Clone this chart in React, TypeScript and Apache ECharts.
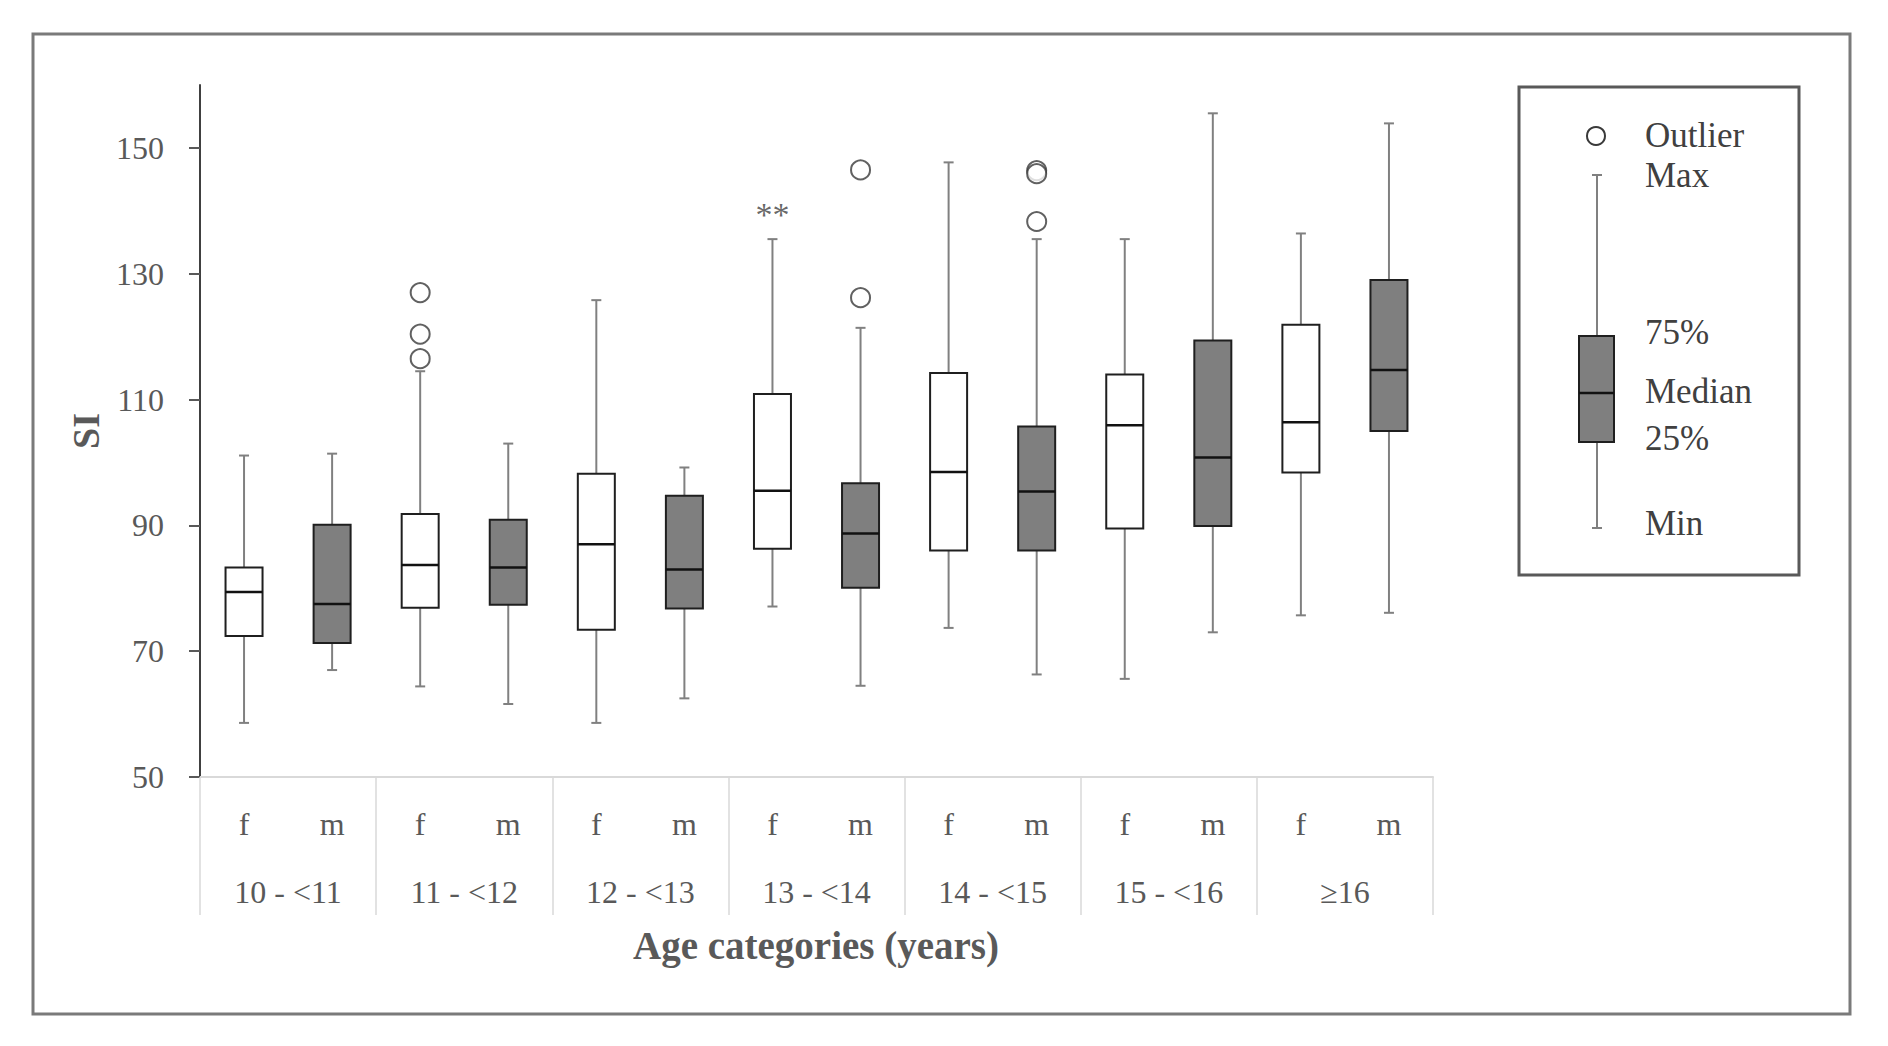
import React, { useEffect, useRef } from 'react';
import * as echarts from 'echarts';

const ageGroups = ['10 - <11', '11 - <12', '12 - <13', '13 - <14', '14 - <15', '15 - <16', '≥16'];
const sexes = ['f', 'm'];
// [min, Q1, median, Q3, max]
const femaleStats = [
  [58.6, 72.4, 79.4, 83.3, 101.1],
  [64.4, 76.9, 83.7, 91.8, 114.5],
  [58.6, 73.4, 87.0, 98.2, 125.8],
  [77.1, 86.3, 95.5, 110.9, 135.5],
  [73.7, 86.0, 98.5, 114.2, 147.7],
  [65.6, 89.5, 105.9, 114.0, 135.5],
  [75.7, 98.4, 106.4, 121.9, 136.4],
];
const maleStats = [
  [67.0, 71.3, 77.5, 90.1, 101.4],
  [61.6, 77.4, 83.3, 90.9, 103.0],
  [62.5, 76.8, 83.0, 94.7, 99.2],
  [64.5, 80.1, 88.7, 96.7, 121.4],
  [66.3, 86.0, 95.4, 105.7, 135.5],
  [73.0, 89.9, 100.8, 119.4, 155.5],
  [76.1, 105.0, 114.7, 129.0, 153.9],
];
// [age group index, value]
const femaleOutliers = [[1, 127.0], [1, 120.4], [1, 116.5]];
const maleOutliers = [[3, 146.5], [3, 126.2], [4, 146.4], [4, 145.9], [4, 138.3]];
const femaleExtremes = [[3, 140.3]];
const yTicks = [50, 70, 90, 110, 130, 150];
const yMin = 50;
const yMax = 160;

const legendItems = [
  { text: 'Outlier', y: 135 },
  { text: 'Max', y: 175 },
  { text: '75%', y: 332 },
  { text: 'Median', y: 391 },
  { text: '25%', y: 438 },
  { text: 'Min', y: 523 },
];

const FONT = '"Liberation Serif", "Times New Roman", serif';
const GREY_TEXT = '#595959';

const sexCategories = ageGroups.flatMap((g) => sexes.map((s) => `${s}|${g}`));

function makeRender(fill: string) {
  return (params: any, api: any) => {
    const idx = api.value(0);
    const pMin = api.coord([idx, api.value(1)]);
    const x = pMin[0];
    const yLo = pMin[1];
    const yQ1 = api.coord([idx, api.value(2)])[1];
    const yMed = api.coord([idx, api.value(3)])[1];
    const yQ3 = api.coord([idx, api.value(4)])[1];
    const yHi = api.coord([idx, api.value(5)])[1];
    const w = 37;
    const cap = 5;
    const whisker = { stroke: '#808080', lineWidth: 2 };
    return {
      type: 'group',
      children: [
        { type: 'line', shape: { x1: x, y1: yHi, x2: x, y2: yQ3 }, style: whisker },
        { type: 'line', shape: { x1: x, y1: yQ1, x2: x, y2: yLo }, style: whisker },
        { type: 'line', shape: { x1: x - cap, y1: yHi, x2: x + cap, y2: yHi }, style: whisker },
        { type: 'line', shape: { x1: x - cap, y1: yLo, x2: x + cap, y2: yLo }, style: whisker },
        {
          type: 'rect',
          shape: { x: x - w / 2, y: yQ3, width: w, height: yQ1 - yQ3 },
          style: { fill, stroke: '#1f1f1f', lineWidth: 2 },
        },
        {
          type: 'line',
          shape: { x1: x - w / 2, y1: yMed, x2: x + w / 2, y2: yMed },
          style: { stroke: '#111111', lineWidth: 2.5 },
        },
      ],
    };
  };
}

export default function App() {
  const ref = useRef<HTMLDivElement>(null);
  useEffect(() => {
    if (!ref.current) return;
    const chart = echarts.init(ref.current, undefined, { renderer: 'svg' });
    const lgX = 1597;
    const option: any = {
      animation: false,
      backgroundColor: '#ffffff',
      grid: { left: 200, top: 85, right: 455, bottom: 269 },
      xAxis: [
        {
          type: 'category',
          data: sexCategories,
          position: 'bottom',
          axisLine: { show: true, lineStyle: { color: '#d9d9d9', width: 2 } },
          axisTick: { show: false },
          axisLabel: {
            formatter: (v: string) => v.split('|')[0],
            fontSize: 32,
            color: GREY_TEXT,
            fontFamily: FONT,
            margin: 31,
            interval: 0,
          },
          splitLine: { show: false },
        },
        {
          type: 'category',
          data: ageGroups,
          position: 'bottom',
          axisLine: { show: false },
          axisTick: { show: true, length: 138, lineStyle: { color: '#d9d9d9', width: 1.5 } },
          axisLabel: { fontSize: 32, color: GREY_TEXT, fontFamily: FONT, margin: 99, interval: 0 },
          splitLine: { show: false },
        },
      ],
      yAxis: {
        type: 'value',
        min: yMin,
        max: yMax,
        interval: 10,
        splitLine: { show: false },
        axisLine: { show: true, lineStyle: { color: '#404040', width: 2 } },
        axisTick: { show: true, length: 11, lineStyle: { color: '#595959', width: 2 }, customValues: yTicks },
        axisLabel: { customValues: yTicks, fontSize: 32, color: GREY_TEXT, fontFamily: FONT, margin: 36 },
      },
      series: [
        {
          name: 'f',
          type: 'custom',
          xAxisIndex: 0,
          renderItem: makeRender('#ffffff'),
          encode: { x: 0, y: [1, 2, 3, 4, 5] },
          data: femaleStats.map((s, g) => [2 * g, ...s]),
          z: 2,
        },
        {
          name: 'm',
          type: 'custom',
          xAxisIndex: 0,
          renderItem: makeRender('#7f7f7f'),
          encode: { x: 0, y: [1, 2, 3, 4, 5] },
          data: maleStats.map((s, g) => [2 * g + 1, ...s]),
          z: 2,
        },
        {
          name: 'Outlier',
          type: 'scatter',
          xAxisIndex: 0,
          symbol: 'circle',
          symbolSize: 19,
          itemStyle: { color: '#ffffff', borderColor: '#3a3a3a', borderWidth: 2 },
          data: [
            ...femaleOutliers.map(([g, v]) => [2 * g, v]),
            ...maleOutliers.map(([g, v]) => [2 * g + 1, v]),
          ],
          z: 3,
        },
        {
          name: 'Extreme',
          type: 'scatter',
          xAxisIndex: 0,
          symbol: 'circle',
          symbolSize: 1,
          itemStyle: { color: 'rgba(0,0,0,0)' },
          label: {
            show: true,
            position: 'inside',
            formatter: '**',
            fontSize: 34,
            color: '#404040',
            fontFamily: FONT,
            offset: [0, 6],
          },
          data: femaleExtremes.map(([g, v]) => [2 * g, v]),
          z: 3,
        },
      ],
      graphic: [
        {
          type: 'rect',
          shape: { x: 33, y: 34, width: 1817, height: 980 },
          style: { fill: 'none', stroke: '#7a7a7a', lineWidth: 3 },
          silent: true,
        },
        {
          type: 'text',
          x: 816,
          y: 945,
          style: {
            text: 'Age categories (years)',
            fontSize: 39,
            fontWeight: 'bold',
            fontFamily: FONT,
            fill: GREY_TEXT,
            align: 'center',
            verticalAlign: 'middle',
          },
        },
        {
          type: 'text',
          x: 86,
          y: 431,
          rotation: Math.PI / 2,
          style: {
            text: 'SI',
            fontSize: 38,
            fontWeight: 'bold',
            fontFamily: FONT,
            fill: GREY_TEXT,
            align: 'center',
            verticalAlign: 'middle',
          },
        },
        {
          type: 'rect',
          shape: { x: 1519, y: 87, width: 280, height: 488 },
          style: { fill: 'none', stroke: '#595959', lineWidth: 3 },
        },
        {
          type: 'circle',
          shape: { cx: 1596, cy: 136, r: 9 },
          style: { fill: '#ffffff', stroke: '#3a3a3a', lineWidth: 2 },
        },
        { type: 'line', shape: { x1: lgX, y1: 175, x2: lgX, y2: 336 }, style: { stroke: '#808080', lineWidth: 2 } },
        { type: 'line', shape: { x1: lgX - 5, y1: 175, x2: lgX + 5, y2: 175 }, style: { stroke: '#808080', lineWidth: 2 } },
        { type: 'line', shape: { x1: lgX, y1: 442, x2: lgX, y2: 528 }, style: { stroke: '#808080', lineWidth: 2 } },
        { type: 'line', shape: { x1: lgX - 5, y1: 528, x2: lgX + 5, y2: 528 }, style: { stroke: '#808080', lineWidth: 2 } },
        {
          type: 'rect',
          shape: { x: 1579, y: 336, width: 35, height: 106 },
          style: { fill: '#7f7f7f', stroke: '#1f1f1f', lineWidth: 2 },
        },
        { type: 'line', shape: { x1: 1579, y1: 393, x2: 1614, y2: 393 }, style: { stroke: '#111111', lineWidth: 2.5 } },
        ...legendItems.map((it) => ({
          type: 'text',
          x: 1645,
          y: it.y,
          style: {
            text: it.text,
            fontSize: 35,
            fontFamily: FONT,
            fill: '#404040',
            align: 'left',
            verticalAlign: 'middle',
          },
        })),
      ],
    };
    chart.setOption(option);
    return () => chart.dispose();
  }, []);
  return (
    <div
      ref={ref}
      style={{ position: 'fixed', left: 0, top: 0, width: 1888, height: 1046, background: '#ffffff' }}
    />
  );
}
